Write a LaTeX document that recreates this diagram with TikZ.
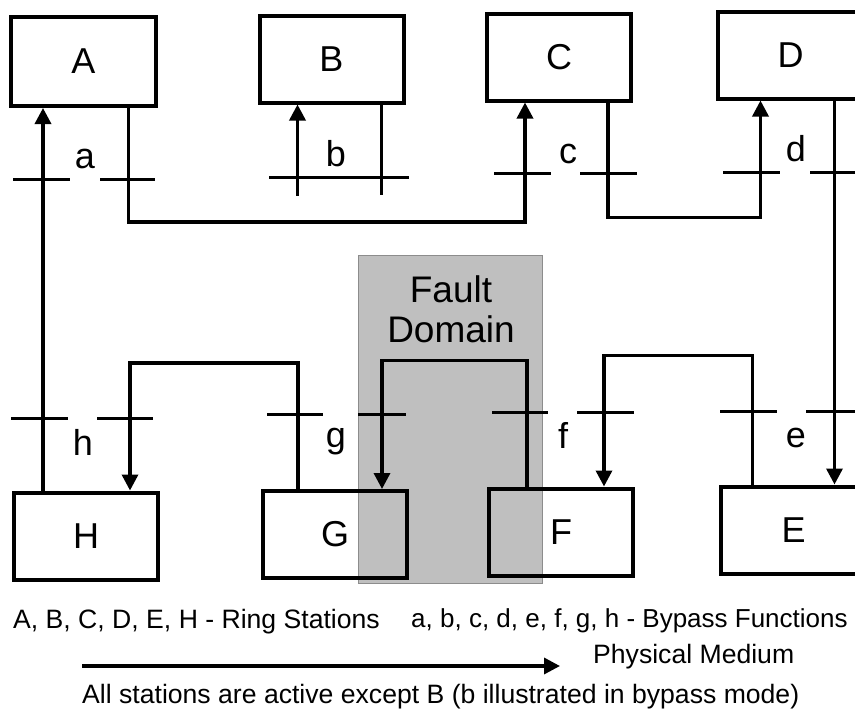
\documentclass[tikz,border=0pt]{standalone}
\usepackage{fontspec}
\setmainfont{Liberation Sans}
\usetikzlibrary{arrows.meta,positioning}

\tikzset{
  station/.style={draw, line width=4pt, minimum width=144pt, minimum height=87pt,
    inner sep=0pt, font=\fontsize{36}{40}\selectfont},
  ring/.style={line width=3.4pt},
  medium/.style={ring, -{Triangle[length=16pt,width=16pt]}},
  bypass/.style={line width=3pt},
  bplabel/.style={anchor=base, inner sep=0pt, font=\fontsize{36}{40}\selectfont},
  legend/.style={anchor=base west, inner sep=0pt, font=\fontsize{26.6}{30}\selectfont},
}

\begin{document}
\begin{tikzpicture}[x=1pt, y=-1pt]
  \clip (0,0) rectangle (855,712);
  \fill[white] (0,0) rectangle (855,712);

  % fault domain
  \filldraw[fill=black!25, draw=black!45, line width=0.8pt] (358,255) rectangle (542,583);
  \node[align=center, font=\fontsize{37}{40}\selectfont] (fault) at (451,309) {Fault\\Domain};

  % ring stations
  \node[station, minimum width=145pt, minimum height=89pt] (A) at (83.5,61.5) {A};
  \node[station] (B) at (331.5,59) {B};
  \node[station] (C) at (559,57) {C};
  \node[station, minimum width=145pt] (D) at (790.5,55) {D};
  \node[station, minimum width=145pt] (E) at (793.5,530) {E};
  \node[station] (F) at (561,532) {F};
  \node[station] (G) at (335,534.5) {G};
  \node[station] (H) at (86,536) {H};

  % physical medium
  \draw[medium] ([xshift=-43pt]H.north) -- ([xshift=-43pt]H.north |- A.south);
  \draw[medium] ([xshift=45pt]A.south) -- ++(0,114) -| ([xshift=-34pt]C.south);
  \draw[medium] ([xshift=-34pt]B.south) ++(0,91) -- ([xshift=-34pt]B.south);
  \draw[ring] ([xshift=50pt]B.south) -- ++(0,90);
  \draw[medium] ([xshift=49pt]C.south) -- ++(0,115) -| ([xshift=-30pt]D.south);
  \draw[medium] ([xshift=44pt]D.south) -- ([xshift=44pt]D.south |- E.north);
  \draw[medium] ([xshift=-41pt]E.north) -- ++(0,-129) -| ([xshift=43pt]F.north);
  \draw[medium] ([xshift=-34pt]F.north) -- ++(0,-126) -| ([xshift=47pt]G.north);
  \draw[medium] ([xshift=-37pt]G.north) -- ++(0,-126) -| ([xshift=44pt]H.north);

  % bypass functions
  \foreach \xa/\xb/\y in {13/70/179, 100/155/179, 269/409/177, 494/551/173, 580/637/173,
      723/780/172, 810/866/172, 11/68/418, 97/153/418, 267/323/414, 358/406/414,
      492/548/412, 577/634/412, 720/777/411, 806/866/411}
    \draw[bypass] (\xa,\y) -- (\xb,\y);
  \node[bplabel] (la) at (85,168) {a};
  \node[bplabel] (lb) at (336,166) {b};
  \node[bplabel] (lc) at (568,163) {c};
  \node[bplabel] (ld) at (796,161) {d};
  \node[bplabel] (le) at (796,447) {e};
  \node[bplabel] (lf) at (563,448) {f};
  \node[bplabel] (lg) at (336,447) {g};
  \node[bplabel] (lh) at (83,455) {h};

  % legend
  \node[legend] (stations) at (13,628) {A, B, C, D, E, H - Ring Stations};
  \node[legend, font=\fontsize{26}{30}\selectfont] (functions) at (411,627)
    {a, b, c, d, e, f, g, h - Bypass Functions};
  \coordinate (m-start) at (82,666);
  \coordinate (m-end) at (560,666);
  \draw[medium] (m-start) -- (m-end);
  \node[legend] (phys) at (593,663) {Physical Medium};
  \node[legend] (note) at (82,703) {All stations are active except B (b illustrated in bypass mode)};
\end{tikzpicture}
\end{document}
